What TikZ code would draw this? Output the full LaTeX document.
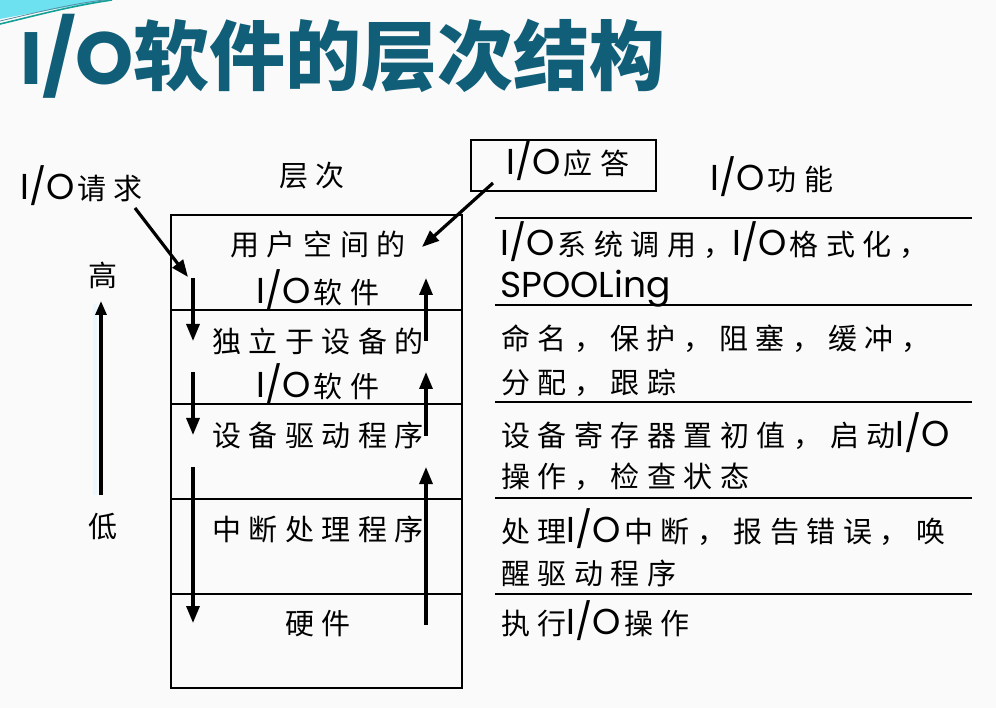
\documentclass[tikz,border=0pt]{standalone}
\usepackage{fontspec}
\usetikzlibrary{arrows.meta}
\setmainfont{Poppins}
\newfontfamily\cjk[LetterSpace=26]{Noto Sans CJK SC}
\newfontfamily\cjktitle{Noto Sans CJK SC}
\newcommand\z[1]{{\fontsize{29}{34}\cjk #1}}
\newcommand\io{I/O\hspace{3pt}}
\definecolor{titleteal}{RGB}{16,94,120}
\definecolor{bgc}{RGB}{250,250,250}
\definecolor{swoosh}{RGB}{110,225,240}
\definecolor{swline}{RGB}{20,160,150}
\tikzset{
  txt/.style={inner sep=0pt, font=\fontsize{36}{40}\selectfont},
  rowline/.style={line width=1.8pt},
  fnline/.style={line width=1.3pt},
  flow/.style={line width=3.2pt, -{Triangle[length=17pt,width=13pt]}},
}
\begin{document}
\begin{tikzpicture}[x=1pt,y=-1pt]
\useasboundingbox (0,0) rectangle (996,708);
\fill[bgc] (0,0) rectangle (996,708);
% corner decoration
\fill[swoosh] (0,0) -- (108,0) .. controls (70,7) and (30,13) .. (0,19) -- cycle;
\draw[swline, line width=1.6pt] (0,24) .. controls (30,17) and (70,6) .. (112,0);
\draw[titleteal!70, line width=0.8pt] (0,21) .. controls (30,14) and (70,4) .. (104,0);
% title
\node[inner sep=0pt, anchor=west, text=titleteal] (title) at (20,56)
  {\fontsize{74}{80}\selectfont\bfseries I/O\cjktitle\fontsize{76}{80}\selectfont 软件的层次结构};
% main box
\draw[rowline] (171,215) rectangle (462,688);
\foreach \yy in {310,404,499,594} \draw[rowline] (171,\yy) -- (462,\yy);
% function lines
\foreach \yy in {218,305,402,498,594} \draw[fnline] (495,\yy) -- (972,\yy);
% response box
\draw[line width=1.8pt] (471,140) rectangle (656,191);
% top labels
\node[txt, anchor=west] (req) at (20,186) {\io\z{请求}};
\node[txt] (level) at (312,176) {\z{层次}};
\node[txt] (resp) at (568,161) {\io\z{应答}};
\node[txt] (func) at (772,177) {\io\z{功能}};
% high / low
\node[txt] (hi) at (103,275) {\z{高}};
\node[txt] (lo) at (103,527) {\z{低}};
\draw[line width=4pt, cyan!8] (95,304) -- (95,495);
\coordinate (hb) at (101,495);
\coordinate (ht) at (101,301);
\draw[flow, -{Triangle[length=14pt,width=11pt]}] (hb) -- (ht);
% layer texts
\node[txt] (l1a) at (318,244) {\z{用户空间的}};
\node[txt] (l1b) at (318,290) {\io\z{软件}};
\node[txt] (l2a) at (318,341) {\z{独立于设备的}};
\node[txt] (l2b) at (318,384) {\io\z{软件}};
\node[txt] (l3) at (318,435) {\z{设备驱动程序}};
\node[txt] (l4) at (318,529) {\z{中断处理程序}};
\node[txt] (l5) at (318,624) {\z{硬件}};
% function texts
\node[txt, anchor=west] (f1a) at (500,242) {\io\z{系统调用，}\io\z{格式化，}};
\node[txt, anchor=base west] (f1b) at (500,298) {SPOOLing};
\node[txt, anchor=west] (f2a) at (501,339) {\z{命名，}\hspace{7pt}\z{保护，}\hspace{7pt}\z{阻塞，}\hspace{7pt}\z{缓冲，}};
\node[txt, anchor=west] (f2b) at (501,383) {\z{分配，跟踪}};
\node[txt, anchor=west] (f3a) at (501,433) {\z{设备寄存器置初值，启动}I/O};
\node[txt, anchor=west] (f3b) at (501,477) {\z{操作，检查状态}};
\node[txt, anchor=west] (f4a) at (501,529) {\z{处理}\io\z{中断，报告错误，唤}};
\node[txt, anchor=west] (f4b) at (501,573) {\z{醒驱动程序}};
\node[txt, anchor=west] (f5) at (501,621) {\z{执行}\io\z{操作}};
% request / response arrows
\coordinate (reqs) at (135,208);
\coordinate (reqt) at (188,277);
\draw[flow] (reqs) -- (reqt);
\coordinate (resps) at (493,183);
\coordinate (respt) at (422,247);
\draw[flow] (resps) -- (respt);
% down arrows
\coordinate (d1s) at (193,278); \coordinate (d1t) at (193,341);
\coordinate (d2s) at (193,372); \coordinate (d2t) at (193,435);
\coordinate (d3s) at (193,467); \coordinate (d3t) at (193,623);
\draw[flow] (d1s) -- (d1t);
\draw[flow] (d2s) -- (d2t);
\draw[flow] (d3s) -- (d3t);
% up arrows
\coordinate (u1s) at (426,625); \coordinate (u1t) at (426,467);
\coordinate (u2s) at (426,436); \coordinate (u2t) at (426,372);
\coordinate (u3s) at (426,341); \coordinate (u3t) at (426,278);
\draw[flow] (u1s) -- (u1t);
\draw[flow] (u2s) -- (u2t);
\draw[flow] (u3s) -- (u3t);
\end{tikzpicture}
\end{document}
